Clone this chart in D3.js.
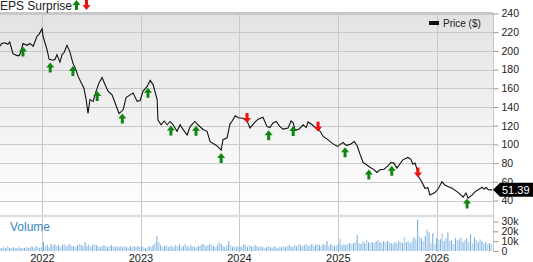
<!DOCTYPE html>
<html lang="en">
  <head>
    <title>EPS Surprise</title>
    <script src="https://d3js.org/d3.v7.min.js"></script>
    <style>
      body
      {
        margin: 0;
        background: #fff;
      }
      text
      {
        font-family: "Liberation Sans", Arial, sans-serif;
      }
    </style>
  </head>
  <body>
    <svg id="chart" width="533" height="262"></svg>

    <script>
      // price line
      var priceDates = ["2021-07-28","2021-08-03","2021-08-15","2021-08-26","2021-09-02","2021-09-14","2021-09-29","2021-10-07","2021-10-14","2021-10-21",
        "2021-11-05","2021-11-16","2021-11-28","2021-12-12","2021-12-20","2021-12-31","2022-01-03","2022-01-18","2022-01-26","2022-02-10",
        "2022-02-17","2022-02-24","2022-03-07","2022-03-15","2022-03-22","2022-04-02","2022-04-13","2022-04-24","2022-05-05","2022-05-13",
        "2022-05-28","2022-06-04","2022-06-12","2022-06-19","2022-06-26","2022-07-08","2022-07-19","2022-07-30","2022-08-10","2022-08-21",
        "2022-09-01","2022-09-16","2022-09-27","2022-10-12","2022-10-27","2022-11-07","2022-11-22","2022-12-03","2022-12-18","2022-12-29",
        "2023-01-09","2023-01-24","2023-02-04","2023-02-15","2023-03-02","2023-03-05","2023-03-17","2023-03-28","2023-04-08","2023-04-19",
        "2023-04-30","2023-05-15","2023-05-26","2023-06-06","2023-06-21","2023-07-02","2023-07-20","2023-07-31","2023-08-19","2023-09-03",
        "2023-09-14","2023-10-03","2023-10-13","2023-10-25","2023-11-01","2023-11-16","2023-11-27","2023-12-05","2023-12-16","2023-12-27",
        "2024-01-14","2024-01-29","2024-02-09","2024-02-28","2024-03-10","2024-03-28","2024-04-12","2024-04-23","2024-05-04","2024-05-16",
        "2024-05-30","2024-06-10","2024-06-29","2024-07-10","2024-07-18","2024-07-25","2024-08-09","2024-08-24","2024-09-04","2024-09-11",
        "2024-09-26","2024-10-07","2024-10-26","2024-11-06","2024-11-21","2024-12-09","2024-12-28","2025-01-08","2025-01-19","2025-01-30",
        "2025-02-14","2025-03-01","2025-03-12","2025-03-23","2025-04-03","2025-04-17","2025-04-28","2025-05-13","2025-05-24","2025-06-04",
        "2025-06-19","2025-07-04","2025-07-15","2025-07-26","2025-08-06","2025-08-17","2025-08-28","2025-09-16","2025-09-27","2025-10-04",
        "2025-10-12","2025-10-19","2025-10-23","2025-11-06","2025-11-18","2025-11-29","2025-12-06","2025-12-25","2026-01-05","2026-01-20",
        "2026-01-31","2026-02-11","2026-02-26","2026-03-17","2026-03-31","2026-04-08","2026-04-19","2026-04-27","2026-05-12","2026-05-23",
        "2026-06-03","2026-06-18","2026-06-25","2026-07-03","2026-07-10","2026-07-25"];
      var priceValues = [205,208,208.6,207,209.5,197,195,195,199,208,
        206,208,205,215.7,218,223.6,216,201.5,191,190,
        191,196,188,196,198,206,199,187,180,173,
        164,160,148,133,148,146,157,166,171.5,164,
        157,153,144.5,133,137,150,153,155,146,147,
        157,162,168.5,164,148,126,121,125,121,124.5,
        121,114,121,116,110,119,124.5,121,116,114,
        103,99.6,97.6,94,105,107,122,125,130.7,128.5,
        128,125,117.6,124,127,129,119,118,123,124.5,
        119,116.4,117.5,125,123,115,116.5,121,118,124,
        121,118,114,108.5,105.6,101.4,97.9,100,102,99,
        100,103,98.6,89,80.6,78,75.6,73,70,72.8,
        73.5,77,80.6,80,74.6,79,83.5,86,84,78.7,
        80,74,66.7,60,53,53.7,46,48.6,52,60,
        56.5,55,53,49.5,46,43.6,48,42.5,46,49.5,
        51.5,54.2,52,54,51.5,51.39];

      // earnings surprise markers
      var epsDates = ["2021-10-21","2022-01-30","2022-04-24","2022-07-23","2022-10-24","2023-01-27","2023-04-22","2023-07-24","2023-10-25",
        "2024-01-29","2024-04-18","2024-07-18","2024-10-18","2025-01-26","2025-04-24","2025-07-18","2025-10-23","2026-04-23"];
      var epsBeat = [true,true,true,true,true,true,true,true,true,
        false,true,true,false,true,true,true,false,true];

      // weekly volume (thousands), starting at volStart
      var volStart = "2021-07-28";
      var volumeK = [3,3,4,3,5,3,3,4,3,3,4,3,3,3,4,3,4,5,3,5,4,3,
        4,9,5,6,4,7,6,7,5,6,4,6,7,5,6,7,5,5,4,6,7,6,5,9,5,6,4,6,7,6,5,4,5,6,5,4,5,6,5,4,5,4,5,4,5,4,3,5,4,5,4,5,
        4,5,4,3,4,5,4,6,8,15,9,6,4,5,6,4,5,5,4,6,5,7,4,5,7,5,4,6,5,4,4,5,6,7,7,5,6,7,6,5,4,6,9,7,5,4,6,10,6,4,5,4,5,
        4,5,7,6,4,6,5,4,6,5,4,5,4,3,4,5,4,3,5,4,3,4,4,5,4,5,6,5,4,6,5,7,6,5,6,7,5,6,7,5,6,7,6,5,7,6,10,5,7,6,5,6,
        7,12,6,7,6,7,8,7,8,9,16,8,7,10,8,11,9,8,9,8,10,11,9,8,10,9,10,9,8,7,9,8,10,9,8,14,9,10,8,10,14,12,32,15,13,10,15,22,19,8,18,7,
        13,11,12,18,10,13,19,10,11,7,13,11,12,14,9,11,13,9,17,8,14,11,9,12,10,8,9,7,8,7];

      var priceTicks = [40,60,80,100,120,140,160,180,200,220,240];
      var volumeTicks = [0,10,20,30];
      var lastPrice = 51.39;

      var parse = d3.timeParse("%Y-%m-%d");
      var prices = priceDates.map(function(d, i){ return {date: parse(d), value: priceValues[i]}; });
      var vols = volumeK.map(function(v, i){ return {date: d3.timeDay.offset(parse(volStart), 7 * i), value: v}; });

      var svg = d3.select("#chart");
      var plotLeft = 0, plotRight = 493;
      var plotTop = 13, priceBottom = 215, volBottom = 251;

      var x = d3.scaleTime().domain([parse("2021-07-28"), parse("2026-07-28")]).range([plotLeft, plotRight]);
      var y = d3.scaleLinear().domain([40, 240]).range([200.5, 13.5]);
      var yv = d3.scaleLinear().domain([0, 30]).range([volBottom, 221.5]);

      var defs = svg.append("defs");
      var grad = defs.append("linearGradient").attr("id", "bg").attr("x1", 0).attr("y1", 0).attr("x2", 0).attr("y2", 1);
      grad.append("stop").attr("offset", "0%").attr("stop-color", "#e3e3e3");
      grad.append("stop").attr("offset", "100%").attr("stop-color", "#ffffff");
      defs.append("clipPath").attr("id", "clipPrice").append("rect")
          .attr("x", plotLeft).attr("y", plotTop).attr("width", plotRight - plotLeft).attr("height", priceBottom - plotTop);

      svg.append("rect").attr("x", plotLeft).attr("y", plotTop).attr("width", plotRight - plotLeft)
         .attr("height", priceBottom - plotTop).attr("fill", "url(#bg)");

      // horizontal grid
      svg.append("g").selectAll("line").data(priceTicks).enter().append("line")
         .attr("x1", plotLeft).attr("x2", plotRight)
         .attr("y1", function(d){ return Math.round(y(d)) + 0.5; })
         .attr("y2", function(d){ return Math.round(y(d)) + 0.5; })
         .attr("stroke", "#c8c8c8");

      // year grid
      var years = x.ticks(d3.timeYear.every(1));
      svg.append("g").selectAll("line").data(years).enter().append("line")
         .attr("x1", function(d){ return Math.round(x(d)) + 0.5; })
         .attr("x2", function(d){ return Math.round(x(d)) + 0.5; })
         .attr("y1", plotTop).attr("y2", volBottom + 1)
         .attr("stroke", "#c8c8c8");

      // panel borders
      svg.append("line").attr("x1", plotLeft).attr("x2", plotRight).attr("y1", 13).attr("y2", 13)
         .attr("stroke", "#c8c8c8").attr("stroke-width", 2);
      svg.append("line").attr("x1", plotLeft).attr("x2", plotRight).attr("y1", 216).attr("y2", 216)
         .attr("stroke", "#dedede").attr("stroke-width", 2.5);
      svg.append("line").attr("x1", plotRight + 0.5).attr("x2", plotRight + 0.5).attr("y1", plotTop).attr("y2", volBottom)
         .attr("stroke", "#c8c8c8");

      // volume bars
      svg.append("g").selectAll("rect").data(vols).enter().append("rect")
         .attr("x", function(d, i){ return x(d.date) - (i % 2 ? 0.5 : 0.8); })
         .attr("width", function(d, i){ return i % 2 ? 1 : 1.6; })
         .attr("y", function(d){ return yv(d.value); })
         .attr("height", function(d){ return volBottom - yv(d.value); })
         .attr("fill", function(d, i){ return i % 2 ? "#6fa8dc" : "#b9d5ef"; });

      svg.append("text").attr("x", 10).attr("y", 231).attr("font-size", 12)
         .attr("fill", "#3a86c6").text("Volume");

      // price line
      var line = d3.line().x(function(d){ return x(d.date); }).y(function(d){ return y(d.value); });
      svg.append("path").datum(prices).attr("clip-path", "url(#clipPrice)")
         .attr("d", line).attr("fill", "none").attr("stroke", "#111").attr("stroke-width", 1.1);

      // arrows
      function arrow(cx, ty, up)
      {
        if (up)
          return "M" + (cx - 4) + "," + (ty + 5) + "L" + cx + "," + ty + "L" + (cx + 4) + "," + (ty + 5)
               + "L" + (cx + 1.5) + "," + (ty + 5) + "L" + (cx + 1.5) + "," + (ty + 10)
               + "L" + (cx - 1.5) + "," + (ty + 10) + "L" + (cx - 1.5) + "," + (ty + 5) + "Z";
        return "M" + (cx - 1.5) + "," + ty + "L" + (cx + 1.5) + "," + ty + "L" + (cx + 1.5) + "," + (ty + 5)
             + "L" + (cx + 4) + "," + (ty + 5) + "L" + cx + "," + (ty + 10) + "L" + (cx - 4) + "," + (ty + 5)
             + "L" + (cx - 1.5) + "," + (ty + 5) + "Z";
      }

      var bisect = d3.bisector(function(d){ return d.date; }).left;
      function priceAt(date)
      {
        var i = Math.max(1, Math.min(prices.length - 1, bisect(prices, date)));
        var a = prices[i - 1], b = prices[i];
        var t = (date - a.date) / (b.date - a.date);
        return a.value + (b.value - a.value) * t;
      }

      svg.append("g").selectAll("path").data(epsDates).enter().append("path")
         .attr("d", function(d, i){
           var dt = parse(d), py = y(priceAt(dt));
           return epsBeat[i] ? arrow(x(dt), py + 3, true) : arrow(x(dt), py - 8, false);
         })
         .attr("fill", function(d, i){ return epsBeat[i] ? "#0f870f" : "#f01010"; });

      // title
      svg.append("text").attr("x", 0).attr("y", 10).attr("font-size", 12).attr("fill", "#222").text("EPS Surprise");
      svg.append("path").attr("d", arrow(76.5, 0, true)).attr("fill", "#0f870f");
      svg.append("path").attr("d", arrow(86.5, 0, false)).attr("fill", "#f01010");

      // legend
      svg.append("rect").attr("x", 429).attr("y", 21).attr("width", 10).attr("height", 4).attr("fill", "#111");
      svg.append("text").attr("x", 443).attr("y", 27).attr("font-size", 10).attr("fill", "#222").text("Price ($)");

      // right axes
      var axisP = d3.axisRight(y).tickValues(priceTicks).tickSize(5).tickPadding(3);
      var gP = svg.append("g").attr("transform", "translate(" + (plotRight + 0.5) + ",0)").call(axisP);
      var axisV = d3.axisRight(yv).tickValues(volumeTicks).tickSize(5).tickPadding(3)
                    .tickFormat(function(d){ return d === 0 ? "0" : d + "k"; });
      var gV = svg.append("g").attr("transform", "translate(" + (plotRight + 0.5) + ",0)").call(axisV);
      [gP, gV].forEach(function(g){
        g.select(".domain").remove();
        g.selectAll("line").attr("stroke", "#999");
        g.selectAll("text").attr("font-size", 10.5).attr("fill", "#222")
         .style("font-family", "'Liberation Sans', Arial, sans-serif");
      });

      // bottom year labels
      svg.append("g").selectAll("text").data(years).enter().append("text")
         .attr("x", function(d){ return x(d); }).attr("y", 261.5)
         .attr("text-anchor", "middle").attr("font-size", 11).attr("fill", "#222")
         .text(d3.timeFormat("%Y"));

      // last price tag
      var ly = y(lastPrice);
      svg.append("path")
         .attr("d", "M" + plotRight + "," + ly + "L" + (plotRight + 7) + "," + (ly - 7) + "L533," + (ly - 7)
                  + "L533," + (ly + 7) + "L" + (plotRight + 7) + "," + (ly + 7) + "Z")
         .attr("fill", "#000");
      svg.append("text").attr("x", 502).attr("y", ly + 4).attr("font-size", 11)
         .attr("fill", "#fff").text(lastPrice.toFixed(2));
    </script>
  </body>
</html>
